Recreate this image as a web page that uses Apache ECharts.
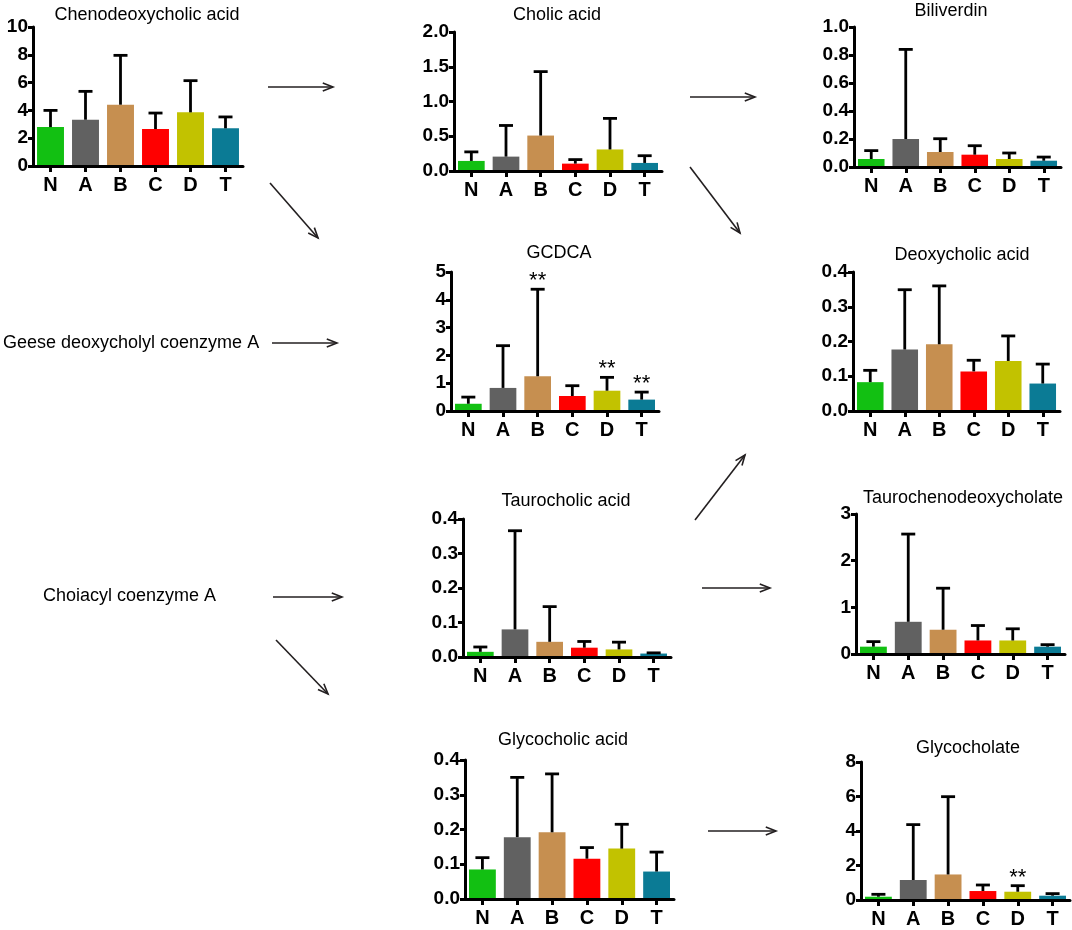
<!DOCTYPE html>
<html><head><meta charset="utf-8">
<script src="https://cdn.jsdelivr.net/npm/echarts@6/dist/echarts.min.js"></script>
<style>html,body{margin:0;padding:0;background:#fff}#c{width:1072px;height:930px}</style>
</head><body><div id="c"></div>
<script>
// ---------- data ----------
const groups = ['N', 'A', 'B', 'C', 'D', 'T'];
const groupColors = ['#12c012', '#616161', '#c68f50', '#ff0000', '#c2c200', '#0b7b95'];

const chenoMean   = [2.80, 3.33, 4.41, 2.66, 3.86, 2.71];
const chenoUpper  = [4.00, 5.37, 7.96, 3.81, 6.14, 3.53];

const cholicMean  = [0.145, 0.207, 0.51, 0.106, 0.31, 0.116];
const cholicUpper = [0.275, 0.655, 1.43, 0.164, 0.757, 0.22];

const biliMean    = [0.057, 0.20, 0.107, 0.088, 0.057, 0.045];
const biliUpper   = [0.117, 0.84, 0.202, 0.152, 0.100, 0.071];

const gcdcaMean   = [0.26, 0.83, 1.25, 0.54, 0.73, 0.41];
const gcdcaUpper  = [0.50, 2.35, 4.38, 0.91, 1.21, 0.68];
const gcdcaSig    = ['', '', '**', '', '**', '**'];

const deoxyMean   = [0.083, 0.177, 0.192, 0.114, 0.144, 0.079];
const deoxyUpper  = [0.117, 0.349, 0.360, 0.146, 0.216, 0.135];

const tauroMean   = [0.015, 0.080, 0.044, 0.027, 0.022, 0.010];
const tauroUpper  = [0.029, 0.366, 0.146, 0.045, 0.043, 0.012];

const tcdcMean    = [0.157, 0.69, 0.52, 0.29, 0.29, 0.157];
const tcdcUpper   = [0.265, 2.57, 1.41, 0.61, 0.54, 0.20];

const glycoMean   = [0.085, 0.178, 0.192, 0.116, 0.145, 0.079];
const glycoUpper  = [0.119, 0.350, 0.360, 0.148, 0.215, 0.135];

const glyclMean   = [0.19, 1.16, 1.48, 0.52, 0.48, 0.25];
const glyclUpper  = [0.33, 4.37, 5.99, 0.87, 0.83, 0.37];
const glyclSig    = ['', '', '', '', '**', ''];

const panelTitles = ['Chenodeoxycholic acid', 'Cholic acid', 'Biliverdin', 'GCDCA',
  'Deoxycholic acid', 'Taurocholic acid', 'Taurochenodeoxycholate', 'Glycocholic acid', 'Glycocholate'];
const sideLabels = ['Geese deoxycholyl coenzyme A', 'Choiacyl coenzyme A'];

// ---------- layout ----------
const FONT = '"Liberation Sans", Arial, Helvetica, sans-serif';
const panels = [
  {mean: chenoMean,  upper: chenoUpper,  max: 10,  interval: 2,   dec: 0, grid: [33, 27, 210, 139],  title: [147, 15]},
  {mean: cholicMean, upper: cholicUpper, max: 2,   interval: 0.5, dec: 1, grid: [454, 32, 208, 139], title: [557, 15]},
  {mean: biliMean,   upper: biliUpper,   max: 1,   interval: 0.2, dec: 1, grid: [854, 27, 207, 140], title: [951, 11]},
  {mean: gcdcaMean,  upper: gcdcaUpper,  max: 5,   interval: 1,   dec: 0, grid: [451, 272, 208, 139], title: [559, 253], sig: gcdcaSig},
  {mean: deoxyMean,  upper: deoxyUpper,  max: 0.4, interval: 0.1, dec: 1, grid: [853, 272, 207, 139], title: [962, 255]},
  {mean: tauroMean,  upper: tauroUpper,  max: 0.4, interval: 0.1, dec: 1, grid: [463, 519, 208, 138], title: [566, 501]},
  {mean: tcdcMean,   upper: tcdcUpper,   max: 3,   interval: 1,   dec: 0, grid: [856, 514, 209, 140], title: [963, 498]},
  {mean: glycoMean,  upper: glycoUpper,  max: 0.4, interval: 0.1, dec: 1, grid: [465, 760, 209, 139], title: [563, 740]},
  {mean: glyclMean,  upper: glyclUpper,  max: 8,   interval: 2,   dec: 0, grid: [861, 762, 209, 138], title: [968, 748], sig: glyclSig}
];

const grids = [], xAxes = [], yAxes = [], series = [], graphics = [];

function errRenderer(sig) {
  return function (params, api) {
    const i = api.value(0);
    const p0 = api.coord([i, api.value(1)]);
    const p1 = api.coord([i, api.value(2)]);
    const hw = 7;
    const st = {stroke: '#000', lineWidth: 2.8};
    const children = [
      {type: 'line', shape: {x1: p0[0], y1: p0[1], x2: p1[0], y2: p1[1]}, style: st},
      {type: 'line', shape: {x1: p1[0] - hw, y1: p1[1], x2: p1[0] + hw, y2: p1[1]}, style: st}
    ];
    const s = sig ? sig[params.dataIndex] : '';
    if (s) {
      children.push({type: 'text', x: p1[0], y: p1[1] - 8,
        style: {text: s, textAlign: 'center', textVerticalAlign: 'middle',
          font: 'normal 22px ' + FONT, fill: '#000'}});
    }
    return {type: 'group', children: children};
  };
}

panels.forEach(function (p, k) {
  grids.push({left: p.grid[0], top: p.grid[1], width: p.grid[2], height: p.grid[3],
    containLabel: false, outerBoundsMode: 'none'});
  xAxes.push({type: 'category', gridIndex: k, data: groups, z: 5,
    axisLine: {show: true, lineStyle: {color: '#000', width: 3}},
    axisTick: {show: true, alignWithLabel: true, length: 6, lineStyle: {color: '#000', width: 3}},
    axisLabel: {color: '#000', fontFamily: FONT, fontWeight: 'bold', fontSize: 20, margin: 9},
    splitLine: {show: false}});
  yAxes.push({type: 'value', gridIndex: k, min: 0, max: p.max, interval: p.interval, z: 5,
    axisLine: {show: true, lineStyle: {color: '#000', width: 3}},
    axisTick: {show: true, length: 5, lineStyle: {color: '#000', width: 3}},
    axisLabel: {color: '#000', fontFamily: FONT, fontWeight: 'bold', fontSize: 19, margin: 5,
      formatter: function (v) { return v.toFixed(p.dec); }},
    splitLine: {show: false}});
  series.push({type: 'bar', xAxisIndex: k, yAxisIndex: k, barWidth: '77%', z: 2,
    data: p.mean.map(function (v, i) { return {value: v, itemStyle: {color: groupColors[i]}}; })});
  series.push({type: 'custom', xAxisIndex: k, yAxisIndex: k, z: 3,
    renderItem: errRenderer(p.sig),
    encode: {x: 0, y: [1, 2]},
    data: p.mean.map(function (v, i) { return [i, v, p.upper[i]]; })});
  graphics.push({type: 'text', x: p.title[0], y: p.title[1],
    style: {text: panelTitles[k], textAlign: 'center', textVerticalAlign: 'middle',
      font: 'normal 18px ' + FONT, fill: '#000'}});
});

graphics.push({type: 'text', x: 3, y: 343,
  style: {text: sideLabels[0], textAlign: 'left', textVerticalAlign: 'middle', font: 'normal 18px ' + FONT, fill: '#000'}});
graphics.push({type: 'text', x: 43, y: 596,
  style: {text: sideLabels[1], textAlign: 'left', textVerticalAlign: 'middle', font: 'normal 18px ' + FONT, fill: '#000'}});

function arrow(x1, y1, x2, y2) {
  const a = Math.atan2(y2 - y1, x2 - x1);
  const L = 11, th = 0.38;
  const h1 = [x2 - L * Math.cos(a - th), y2 - L * Math.sin(a - th)];
  const h2 = [x2 - L * Math.cos(a + th), y2 - L * Math.sin(a + th)];
  const st = {stroke: '#231f20', lineWidth: 1.6, fill: null};
  return {type: 'group', children: [
    {type: 'line', shape: {x1: x1, y1: y1, x2: x2, y2: y2}, style: st},
    {type: 'polyline', shape: {points: [h1, [x2, y2], h2]}, style: st}
  ]};
}
[[268, 87, 333, 87], [270, 183, 318, 238], [272, 343, 337, 343], [690, 97, 755, 97],
 [690, 167, 740, 233], [273, 597, 342, 597], [276, 640, 328, 694], [695, 520, 745, 455],
 [702, 588, 770, 588], [708, 831, 776, 831]].forEach(function (a) {
  graphics.push(arrow(a[0], a[1], a[2], a[3]));
});

const chart = echarts.init(document.getElementById('c'), null, {renderer: 'canvas'});
chart.setOption({
  animation: false,
  backgroundColor: '#fff',
  grid: grids, xAxis: xAxes, yAxis: yAxes, series: series,
  graphic: graphics
});
</script></body></html>
